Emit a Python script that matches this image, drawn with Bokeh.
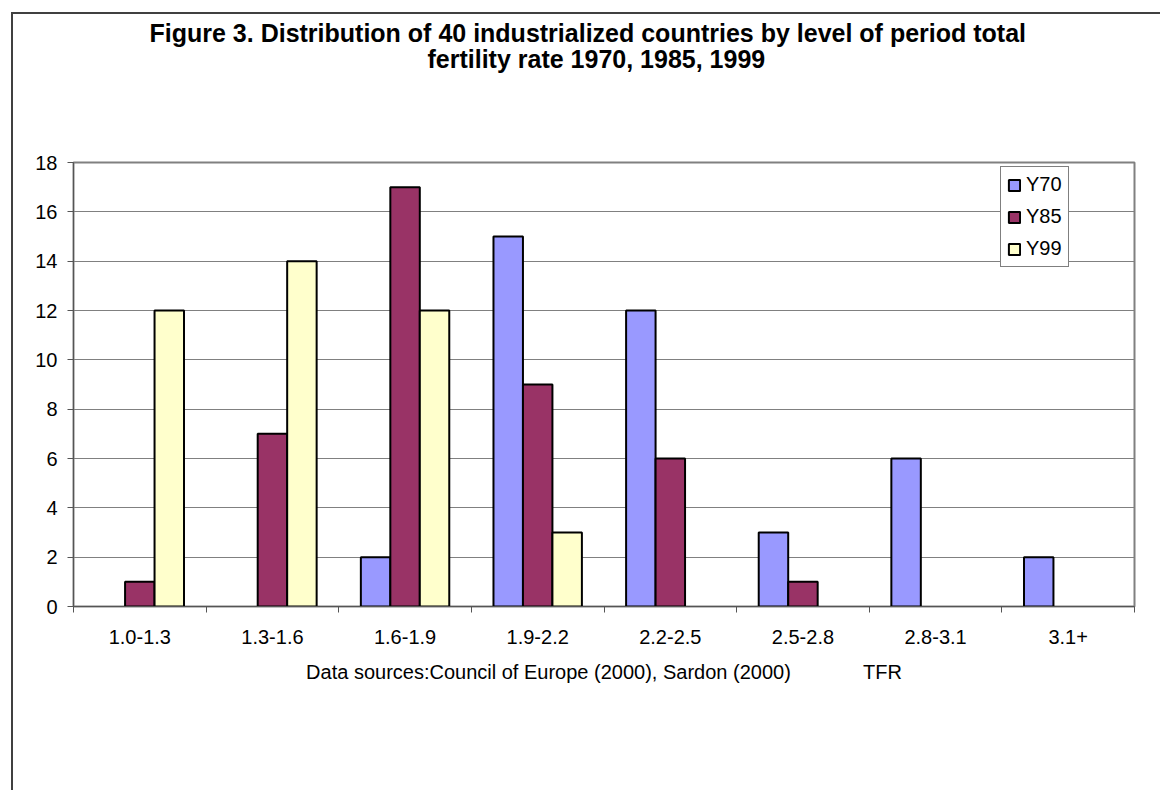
from bokeh.plotting import figure
from bokeh.models import (ColumnDataSource, FixedTicker, Legend, LegendItem,
                          Title, Range1d)
from bokeh.embed import file_html
from bokeh.resources import INLINE

# TFR classes and number of countries in each class per year
categories = ["1.0-1.3", "1.3-1.6", "1.6-1.9", "1.9-2.2",
              "2.2-2.5", "2.5-2.8", "2.8-3.1", "3.1+"]
y70 = [0, 0, 2, 15, 12, 3, 6, 2]
y85 = [1, 7, 17, 9, 6, 1, 0, 0]
y99 = [12, 14, 12, 3, 0, 0, 0, 0]
series_names = ["Y70", "Y85", "Y99"]
series_colors = ["#9999FF", "#993366", "#FFFFCC"]
y_ticks = list(range(0, 19, 2))
title_lines = ["Figure 3. Distribution of 40 industrialized countries by level of period total",
               "fertility rate 1970, 1985, 1999"]
x_title = "Data sources:Council of Europe (2000), Sardon (2000)" + "\u00a0" * 13 + "TFR"

FONT = "Liberation Sans"
BAR_W = 1 / 4.5          # three bars plus a 150% gap per category

# the chart area sits inside a dark border drawn on the host element
p = figure(width=1149, height=778, output_backend="svg", toolbar_location=None,
           x_range=Range1d(0, len(categories)), y_range=Range1d(0, 18),
           min_border_left=60, min_border_right=28,
           min_border_top=148, min_border_bottom=186,
           background_fill_color="white", border_fill_color="white",
           margin=(12, 0, 0, 11),
           styles={"border-left": "2px solid #404040",
                   "border-top": "2px solid #404040"})

renderers = []
for k, (name, vals, col) in enumerate(zip(series_names, [y70, y85, y99], series_colors)):
    xs = [i + 0.5 + (k - 1) * BAR_W for i, v in enumerate(vals) if v > 0]
    tops = [v for v in vals if v > 0]
    src = ColumnDataSource(dict(x=xs, top=tops))
    r = p.vbar(x="x", top="top", bottom=0, width=BAR_W, source=src,
               fill_color=col, line_color="black", line_width=2)
    renderers.append((name, r))

# grid and frame
p.xgrid.visible = False
p.ygrid.grid_line_color = "#808080"
p.ygrid.grid_line_width = 1
p.ygrid.ticker = FixedTicker(ticks=y_ticks)
p.outline_line_color = "#808080"
p.outline_line_width = 2

# y axis
p.yaxis.ticker = FixedTicker(ticks=y_ticks)
p.yaxis.axis_line_color = "#555555"
p.yaxis.major_tick_line_color = "#555555"
p.yaxis.major_tick_out = 6
p.yaxis.major_tick_in = 0
p.yaxis.minor_tick_line_color = None
p.yaxis.major_label_text_font = FONT
p.yaxis.major_label_text_font_size = "20px"
p.yaxis.major_label_text_color = "black"
p.yaxis.major_label_standoff = 10

# x axis: labels at category centres, tick marks between categories
centres = [i + 0.5 for i in range(len(categories))]
p.xaxis.ticker = FixedTicker(ticks=centres, minor_ticks=list(range(len(categories) + 1)))
p.xaxis.major_label_overrides = {c: lab for c, lab in zip(centres, categories)}
p.xaxis.major_tick_line_color = None
p.xaxis.major_tick_out = 6
p.xaxis.major_tick_in = 0
p.xaxis.minor_tick_line_color = "#555555"
p.xaxis.minor_tick_out = 6
p.xaxis.minor_tick_in = 0
p.xaxis.axis_line_color = "#555555"
p.xaxis.major_label_text_font = FONT
p.xaxis.major_label_text_font_size = "20px"
p.xaxis.major_label_text_color = "black"
p.xaxis.major_label_standoff = 17
p.xaxis.axis_label = x_title
p.xaxis.axis_label_text_font = FONT
p.xaxis.axis_label_text_font_size = "20px"
p.xaxis.axis_label_text_font_style = "normal"
p.xaxis.axis_label_text_color = "black"
p.xaxis.axis_label_standoff = 14

# two-line bold title; panels stack outward from the frame, so an
# invisible spacer goes first, then the second line, then the first
title_style = dict(align="left", text_font=FONT, text_font_size="25px",
                   text_font_style="bold", text_color="black")
p.add_layout(Title(text="\u00a0", standoff=60, **title_style), "above")
p.add_layout(Title(text=title_lines[1], offset=354, standoff=0, **title_style), "above")
p.add_layout(Title(text=title_lines[0], offset=76, standoff=-8, **title_style), "above")

# legend
legend = Legend(items=[LegendItem(label=n, renderers=[r]) for n, r in renderers],
                location=(927, 339), orientation="vertical",
                glyph_width=14, glyph_height=14, label_height=20,
                spacing=9, padding=6, label_standoff=5,
                label_text_font=FONT, label_text_font_size="20px",
                label_text_color="black",
                border_line_color="black", border_line_width=1,
                background_fill_color="white", background_fill_alpha=1)
p.add_layout(legend, "center")

open("out.html", "w").write(file_html(p, INLINE))
